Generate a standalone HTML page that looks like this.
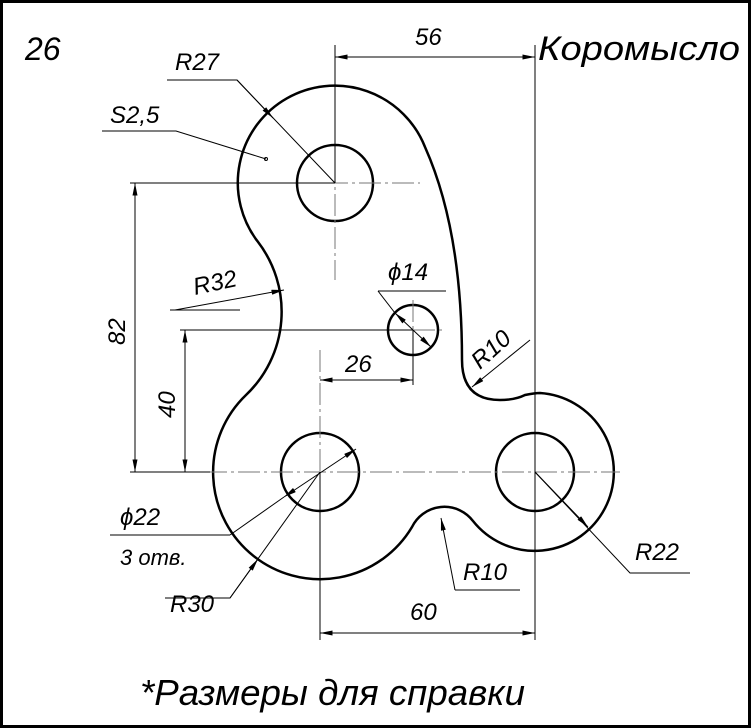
<!DOCTYPE html>
<html><head><meta charset="utf-8"><style>
html,body{margin:0;padding:0;background:#fff}
svg{display:block}
text{font-family:"Liberation Sans",sans-serif;font-style:italic;fill:#000}
</style></head><body>
<svg width="752" height="728" viewBox="0 0 752 728" xmlns="http://www.w3.org/2000/svg">
<rect x="1.5" y="1.5" width="748" height="725" fill="none" stroke="#000" stroke-width="3"/>
<defs><marker id="a" viewBox="0 0 10 4" refX="10" refY="2" markerWidth="14" markerHeight="5" orient="auto-start-reverse" markerUnits="userSpaceOnUse"><path d="M0,0 L10,2 L0,4z" fill="#000"/></marker></defs>
<path d="M257.9 241.8 A97 97 0 1 1 425 147 Q 462 230 462 360 Q 462 400 500 400 Q 515 400 525 395 Q 535 393 540 393 A79 79 0 1 1 473 521 A36 36 0 0 0 412 527 A107 107 0 1 1 246 395 A115 115 0 0 0 257.9 241.8 Z" fill="none" stroke="#000" stroke-width="2.5"/>
<g fill="none" stroke="#000" stroke-width="2.5">
<circle cx="335" cy="183" r="38"/>
<circle cx="320" cy="472" r="39"/>
<circle cx="535" cy="472" r="39"/>
<circle cx="413" cy="330" r="25"/>
</g>
<g stroke="#777" stroke-width="1" stroke-dasharray="22,4,3,4" fill="none">
<line x1="260" y1="183" x2="420" y2="183"/>
<line x1="335" y1="95" x2="335" y2="280"/>
<line x1="205" y1="472" x2="620" y2="472"/>
<line x1="320" y1="350" x2="320" y2="590"/>
<line x1="535" y1="390" x2="535" y2="550"/>
<line x1="380" y1="330" x2="445" y2="330"/>
<line x1="413" y1="300" x2="413" y2="360"/>
</g>
<g stroke="#000" stroke-width="1" fill="none">
<line x1="335" y1="45" x2="335" y2="183"/>
<line x1="535" y1="45" x2="535" y2="640"/>
<line x1="320" y1="472" x2="320" y2="640"/>
<line x1="130" y1="183" x2="335" y2="183"/>
<line x1="130" y1="472" x2="210" y2="472"/>
<line x1="180" y1="330" x2="413" y2="330"/>
<line x1="413" y1="330" x2="413" y2="385"/>
<line x1="335" y1="57" x2="535" y2="57" marker-start="url(#a)" marker-end="url(#a)"/>
<line x1="135" y1="183" x2="135" y2="472" marker-start="url(#a)" marker-end="url(#a)"/>
<line x1="185" y1="330" x2="185" y2="472" marker-start="url(#a)" marker-end="url(#a)"/>
<line x1="320" y1="380" x2="413" y2="380" marker-start="url(#a)" marker-end="url(#a)"/>
<line x1="320" y1="633" x2="535" y2="633" marker-start="url(#a)" marker-end="url(#a)"/>
<polyline points="167,80 237,80 335,183"/>
<line x1="237" y1="80" x2="273" y2="118" marker-end="url(#a)"/>
<polyline points="102,131 176,131 266,159"/>
<circle cx="266" cy="159" r="1.5"/>
<polyline points="170,310 240,310"/>
<line x1="175" y1="310" x2="284" y2="290" marker-end="url(#a)"/>
<polyline points="378,291 446,291"/>
<line x1="378" y1="291" x2="395" y2="313"/>
<line x1="395" y1="313" x2="431" y2="347" marker-start="url(#a)" marker-end="url(#a)"/>
<line x1="530" y1="340" x2="472" y2="387" marker-end="url(#a)"/>
<line x1="110" y1="535" x2="230" y2="535"/>
<line x1="230" y1="535" x2="284" y2="497"/>
<line x1="284" y1="497" x2="356" y2="449" marker-start="url(#a)" marker-end="url(#a)"/>
<polyline points="165,598 230,598 320,472"/>
<line x1="230" y1="598" x2="258" y2="559" marker-end="url(#a)"/>
<line x1="455" y1="590" x2="520" y2="590"/>
<line x1="455" y1="590" x2="441" y2="518" marker-end="url(#a)"/>
<polyline points="690,573 630,573 535,472"/>
<line x1="535" y1="472" x2="588" y2="527" marker-end="url(#a)"/>
</g>
<text x="25" y="60" font-size="32">26</text>
<text x="175" y="70" font-size="24">R27</text>
<text x="110" y="123" font-size="24">S2,5</text>
<text x="415" y="45" font-size="24">56</text>
<text x="538" y="60" font-size="34" textLength="202" lengthAdjust="spacingAndGlyphs">Коромысло</text>
<text x="195" y="295" font-size="24" transform="rotate(-12 195 295)">R32</text>
<text x="388" y="280" font-size="24">ϕ14</text>
<text x="345" y="372" font-size="24">26</text>
<text x="480" y="370" font-size="24" transform="rotate(-42 480 370)">R10</text>
<text x="125" y="345" font-size="24" transform="rotate(-90 125 345)">82</text>
<text x="175" y="418" font-size="24" transform="rotate(-90 175 418)">40</text>
<text x="120" y="525" font-size="24">ϕ22</text>
<text x="120" y="565" font-size="22">3 отв.</text>
<text x="170" y="612" font-size="24">R30</text>
<text x="463" y="580" font-size="24">R10</text>
<text x="635" y="560" font-size="24">R22</text>
<text x="410" y="620" font-size="24">60</text>
<text x="140" y="705" font-size="36" textLength="385" lengthAdjust="spacingAndGlyphs">*Размеры для справки</text>
</svg>
</body></html>
